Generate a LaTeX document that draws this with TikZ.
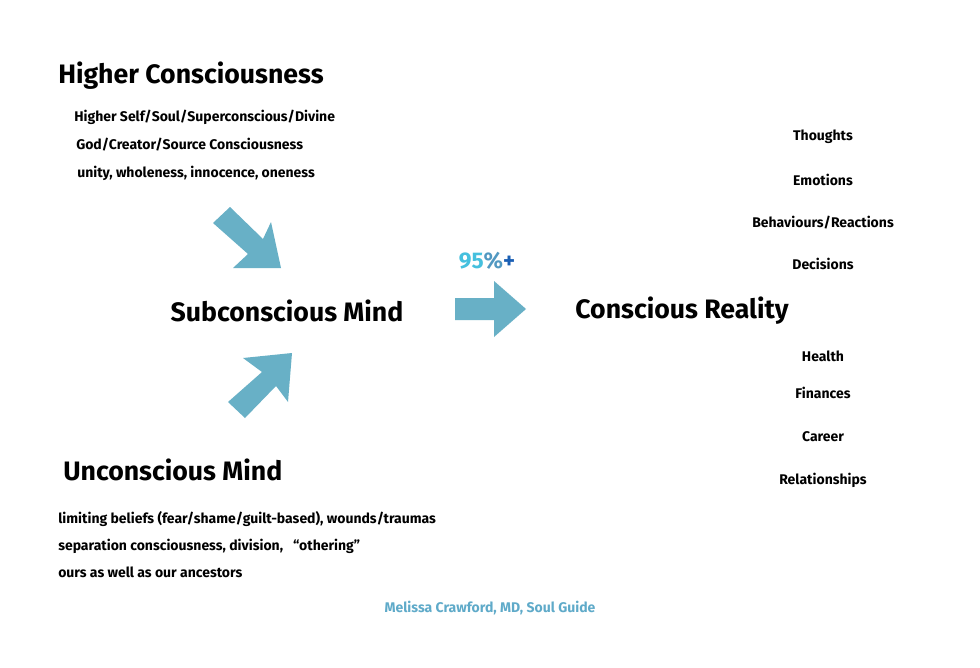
\documentclass[tikz,border=0pt]{standalone}
\usepackage{fontspec}
\setmainfont{Fira Sans}
\begin{document}
\begin{tikzpicture}[x=0.75pt,y=-0.75pt,
  big/.style={font=\fontsize{20}{24}\selectfont\bfseries,inner sep=0},
  sm/.style={font=\fontsize{10.5}{13}\selectfont\bfseries,inner sep=0},
  fat/.style={fill=arrowc,draw=none}]
\definecolor{arrowc}{HTML}{68B0C6}
\definecolor{lblue}{HTML}{45C0DE}
\definecolor{dblue}{HTML}{1A5FB4}
\definecolor{foot}{HTML}{5FAAC9}
\useasboundingbox[fill=white] (0,0) rectangle (980,667);
\node[big,anchor=west] (hc) at (58,76) {Higher Consciousness};
\node[sm,anchor=west] (h1) at (74,117) {Higher Self/Soul/Superconscious/Divine};
\node[sm,anchor=west] (h2) at (76,145) {God/Creator/Source Consciousness};
\node[sm,anchor=west] (h3) at (77,173) {unity, wholeness, innocence, oneness};
\node[big] (sm) at (287,311) {Subconscious Mind};
\node[big] (cr) at (682,311) {Conscious Reality};
\node[big,anchor=west] (um) at (63,470) {Unconscious Mind};
\node[sm,anchor=west] (u1) at (58,519) {limiting beliefs (fear/shame/guilt-based), wounds/traumas};
\node[sm,anchor=west] (u2) at (58,546) {separation consciousness, division, \ \ “othering”};
\node[sm,anchor=west] (u3) at (58,572) {ours as well as our ancestors};
\node[font=\fontsize{17}{20}\selectfont\bfseries,inner sep=0] (pc) at (487,261) {\textcolor{lblue}{95}\textcolor{arrowc!70!dblue}{\%}\textcolor{dblue}{+}};
\foreach \t/\y [count=\i] in {{Thoughts}/137,{Emotions}/180,{Behaviours/Reactions}/223,{Decisions}/264,{Health}/356,{Finances}/393,{Career}/437,{Relationships}/480}
  \node[sm] (r\i) at (823,\y) {\t};
\node[sm,text=foot] (ft) at (490,608) {Melissa Crawford, MD, Soul Guide};
\fill[fat] (213,223)--(230,207)--(263,239)--(271,222)--(281,268)--(233,268)--(248,254)--cycle;
\fill[fat] (228,402)--(262,372)--(243,358)--(292,353)--(288,402)--(276,386)--(245,418)--cycle;
\fill[fat] (455,298)--(494,298)--(494,281)--(526,309)--(494,337)--(494,320)--(455,320)--cycle;
\end{tikzpicture}
\end{document}
